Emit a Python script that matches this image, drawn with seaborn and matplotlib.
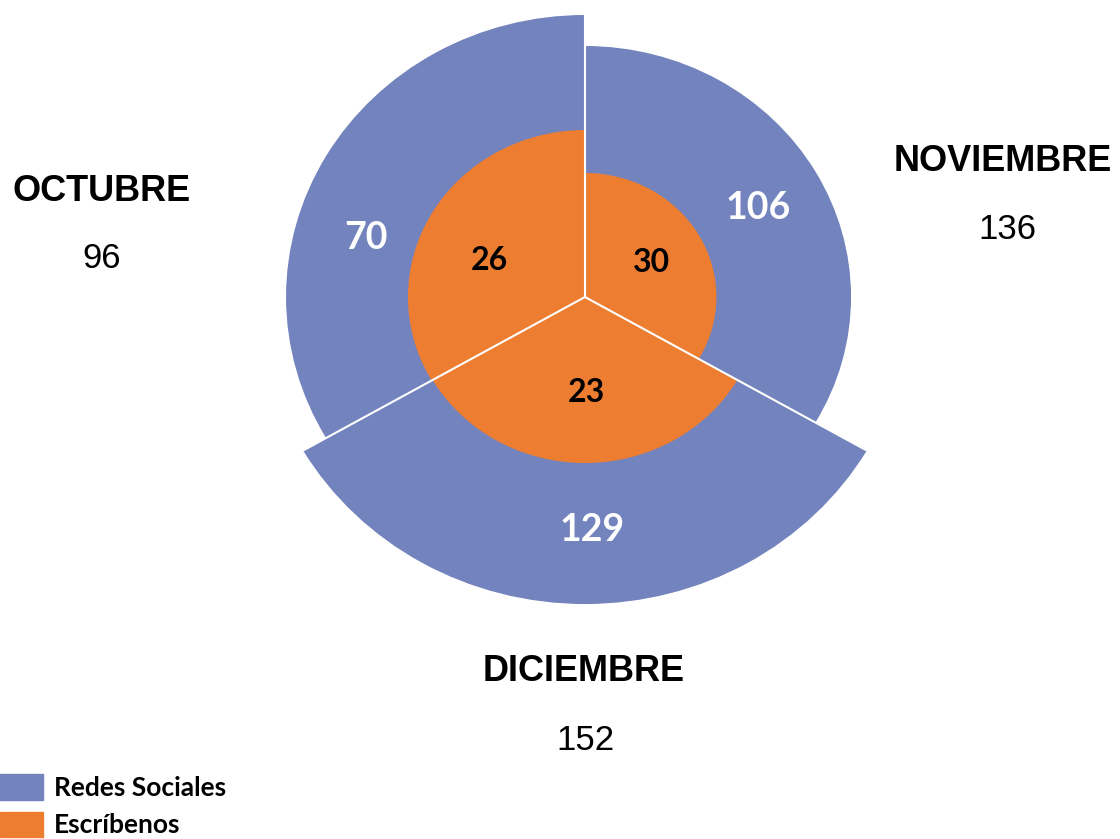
import numpy as np
import matplotlib.pyplot as plt
import seaborn as sns
from matplotlib.patches import Patch

# Data
months = ['NOVIEMBRE', 'DICIEMBRE', 'OCTUBRE']
totals = [136, 152, 96]
redes = [106, 129, 70]
escribenos = [30, 23, 26]

# drawn extent of each ring (chart is not to scale)
outer_r = [251, 307, 282]
inner_r = [124, 166, 167]

blue = '#7383BD'
orange = '#ED7D31'

sns.set_theme(style='white')
plt.rcParams['font.family'] = ['Liberation Sans', 'DejaVu Sans']
plt.rcParams['text.color'] = 'black'

fig = plt.figure(figsize=(11.2, 8.39), dpi=100)
ax = fig.add_axes([0.2289, 0.2765, 0.5868, 0.739], projection='polar')
ax.set_aspect('auto')
ax.set_theta_zero_location('N')
ax.set_theta_direction(-1)

n = len(months)
width = 2 * np.pi / n
theta = np.arange(n) * width + width / 2

ax.bar(theta, outer_r, width=width, bottom=0, color=blue, linewidth=0)
ax.bar(theta, inner_r, width=width, bottom=0, color=orange, linewidth=0)

# white separators between the sectors
edges = theta - width / 2
for i, a in enumerate(edges):
    rr = max(outer_r[i], outer_r[i - 1])
    ax.plot([a, a], [0, rr], color='white', lw=1.5, solid_capstyle='butt')

ax.set_ylim(0, 310)
ax.axis('off')

# value labels (angles in degrees clockwise from top, radius)
outer_pos = [(61.4, 186), (178.4, 233), (286, 215)]
inner_pos = [(61, 72), (179.4, 95), (292, 97)]
for v, (a, r) in zip(redes, outer_pos):
    ax.text(np.deg2rad(a), r, str(v), color='white', fontsize=27,
            fontweight='bold', family='Lato', ha='center', va='center')
for v, (a, r) in zip(escribenos, inner_pos):
    ax.text(np.deg2rad(a), r, str(v), color='black', fontsize=23,
            fontweight='bold', family='Lato', ha='center', va='center')

# month names and totals
name_pos = [(1003, 171), (584, 681), (102, 201)]
total_pos = [(1007, 239), (585, 750), (102, 268)]
for m, t, (nx, ny), (tx, ty) in zip(months, totals, name_pos, total_pos):
    fig.text(nx / 1120, 1 - ny / 839, m, fontsize=26, fontweight='bold',
             ha='center', va='baseline')
    fig.text(tx / 1120, 1 - ty / 839, str(t), fontsize=25,
             ha='center', va='baseline')

handles = [Patch(color=blue, label='Redes Sociales'),
           Patch(color=orange, label='Escríbenos')]
fig.legend(handles=handles, loc='lower left', bbox_to_anchor=(0, 0.002),
           frameon=False, borderaxespad=0, borderpad=0,
           prop={'family': 'Lato', 'weight': 'bold', 'size': 19},
           handlelength=1.63, handleheight=1.12, handletextpad=0.41,
           labelspacing=0.45)

fig.savefig('out.png', dpi=100)
